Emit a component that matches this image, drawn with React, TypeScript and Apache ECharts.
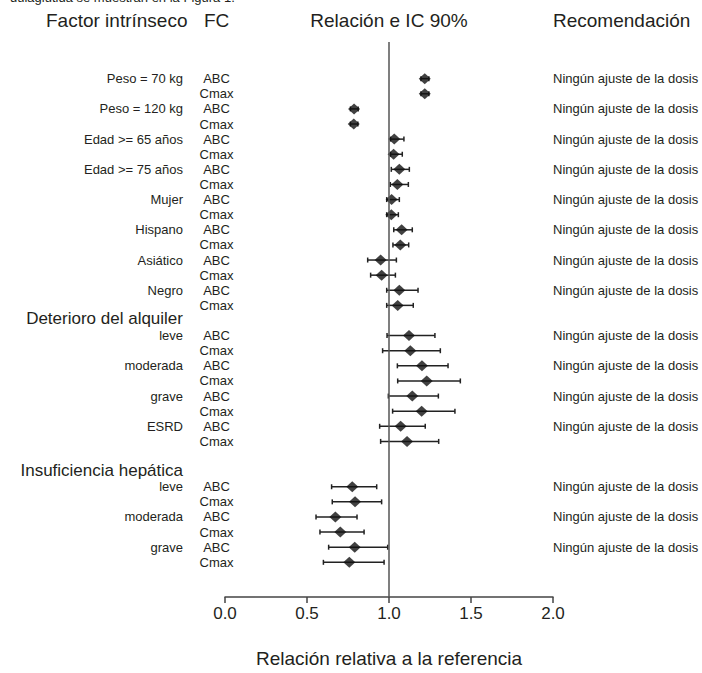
import React, { useEffect, useRef } from "react";
import * as echarts from "echarts";

const factorLabels = [
  "Peso = 70 kg", "Peso = 120 kg", "Edad >= 65 años", "Edad >= 75 años",
  "Mujer", "Hispano", "Asiático", "Negro",
  "leve", "moderada", "grave", "ESRD",
  "leve", "moderada", "grave",
];
const factorRows = [0, 2, 4, 6, 8, 10, 12, 14, 17, 19, 21, 23, 27, 29, 31];
const groupHeaders = ["Deterioro del alquiler", "Insuficiencia hepática"];
const groupHeaderRows = [16, 26];
const pkParams = ["ABC", "Cmax"];
const recommendation = "Ningún ajuste de la dosis";

// one pair (ABC, Cmax) per factor
const ratio = [1.218, 1.218, 0.787, 0.785, 1.032, 1.028, 1.063, 1.051, 1.016, 1.014, 1.077, 1.069, 0.949, 0.955, 1.063, 1.053, 1.122, 1.13, 1.201, 1.23, 1.142, 1.199, 1.071, 1.11, 0.776, 0.793, 0.673, 0.703, 0.791, 0.758];
const lower = [1.195, 1.195, 0.765, 0.765, 1.01, 1.01, 1.014, 1.008, 0.986, 0.986, 1.029, 1.024, 0.87, 0.888, 0.986, 0.986, 0.988, 0.961, 1.051, 1.053, 0.996, 1.022, 0.943, 0.949, 0.65, 0.654, 0.555, 0.579, 0.632, 0.6];
const upper = [1.243, 1.243, 0.812, 0.81, 1.091, 1.081, 1.124, 1.118, 1.063, 1.057, 1.142, 1.12, 1.045, 1.039, 1.177, 1.148, 1.28, 1.313, 1.36, 1.435, 1.301, 1.402, 1.221, 1.303, 0.925, 0.955, 0.805, 0.848, 0.992, 0.97];

const xTicks = [0, 0.5, 1, 1.5, 2];

const FONT = '"Liberation Sans", Arial, Helvetica, sans-serif';
const INK = "#231f20";

export default function App() {
  const ref = useRef<HTMLDivElement>(null);
  useEffect(() => {
    document.body.style.margin = "0";
    if (!ref.current) return;
    const chart = echarts.init(ref.current, null, { renderer: "svg" });

    const pointRows: number[] = [];
    factorRows.forEach((r) => { pointRows.push(r, r + 1); });
    const pointData = ratio.map((v, i) => [v, pointRows[i]]);
    const errData = ratio.map((v, i) => [lower[i], upper[i], pointRows[i], v]);
    const pkData = pointRows.map((r, i) => [0, r, i % 2]);
    const factorData = factorRows.map((r) => [0, r]);
    const headerData = groupHeaderRows.map((r) => [0, r]);
    const recData = factorRows.map((r) => [0, r]);

    const textItem = (x: number, y: number, text: string, size: number, align: string) => ({
      type: "text",
      x,
      y,
      style: {
        text,
        fill: INK,
        font: `${size}px ${FONT}`,
        textAlign: align,
        textVerticalAlign: "middle",
      },
    });

    chart.setOption({
      animation: false,
      grid: { left: 225, right: 149, top: 42, bottom: 71 },
      xAxis: {
        type: "value",
        min: 0,
        max: 2,
        interval: 0.5,
        splitLine: { show: false },
        axisLine: { show: true, onZero: false, lineStyle: { color: "#444", width: 1.5 } },
        axisTick: { show: true, length: 6, lineStyle: { color: "#444", width: 1.5 } },
        axisLabel: {
          color: INK,
          fontSize: 17,
          fontFamily: FONT,
          margin: 8,
          formatter: (v: number) => v.toFixed(1),
          customValues: xTicks,
        },
        name: "Relación relativa a la referencia",
        nameLocation: "middle",
        nameGap: 52,
        nameTextStyle: { color: INK, fontSize: 19, fontFamily: FONT },
      },
      yAxis: {
        type: "value",
        show: false,
        inverse: true,
        min: -2.426,
        max: 34.295,
      },
      graphic: [
        textItem(10, -3, "dulaglutida se muestran en la Figura 1.", 13, "left"),
        textItem(46, 20, "Factor intrínseco", 19, "left"),
        textItem(204, 20, "FC", 19, "left"),
        textItem(389, 20, "Relación e IC 90%", 19, "center"),
        textItem(553, 20, "Recomendación", 19, "left"),
      ],
      series: [
        {
          type: "custom",
          silent: true,
          clip: false,
          data: factorData,
          renderItem: (params: any, api: any) => {
            const p = api.coord([0, api.value(1)]);
            return textItem(183, p[1], factorLabels[params.dataIndex], 13, "right");
          },
        },
        {
          type: "custom",
          silent: true,
          clip: false,
          data: headerData,
          renderItem: (params: any, api: any) => {
            const p = api.coord([0, api.value(1)]);
            return textItem(183, p[1] - 1.5, groupHeaders[params.dataIndex], 17, "right");
          },
        },
        {
          type: "custom",
          silent: true,
          clip: false,
          data: pkData,
          renderItem: (params: any, api: any) => {
            const p = api.coord([0, api.value(1)]);
            return textItem(216.5, p[1], pkParams[api.value(2)], 13, "center");
          },
        },
        {
          type: "custom",
          silent: true,
          clip: false,
          data: recData,
          renderItem: (params: any, api: any) => {
            const p = api.coord([0, api.value(1)]);
            return textItem(553, p[1], recommendation, 13, "left");
          },
        },
        {
          type: "custom",
          silent: true,
          clip: false,
          data: errData,
          encode: { x: [0, 1], y: 2 },
          renderItem: (params: any, api: any) => {
            const a = api.coord([api.value(0), api.value(2)]);
            const b = api.coord([api.value(1), api.value(2)]);
            const st = { stroke: "#222", lineWidth: 1.5 };
            return {
              type: "group",
              children: [
                { type: "line", shape: { x1: a[0], y1: a[1], x2: b[0], y2: b[1] }, style: st },
                { type: "line", shape: { x1: a[0], y1: a[1] - 2.5, x2: a[0], y2: a[1] + 2.5 }, style: st },
                { type: "line", shape: { x1: b[0], y1: b[1] - 2.5, x2: b[0], y2: b[1] + 2.5 }, style: st },
              ],
            };
          },
        },
        {
          type: "scatter",
          silent: true,
          data: pointData,
          symbol: "diamond",
          symbolSize: [12, 11],
          itemStyle: { color: "#111" },
          markLine: {
            silent: true,
            symbol: "none",
            label: { show: false },
            lineStyle: { color: "#555", width: 1.5, type: "solid" },
            data: [{ xAxis: 1 }],
          },
        },
      ],
    });
    return () => chart.dispose();
  }, []);
  return <div ref={ref} style={{ width: 702, height: 673 }} />;
}
